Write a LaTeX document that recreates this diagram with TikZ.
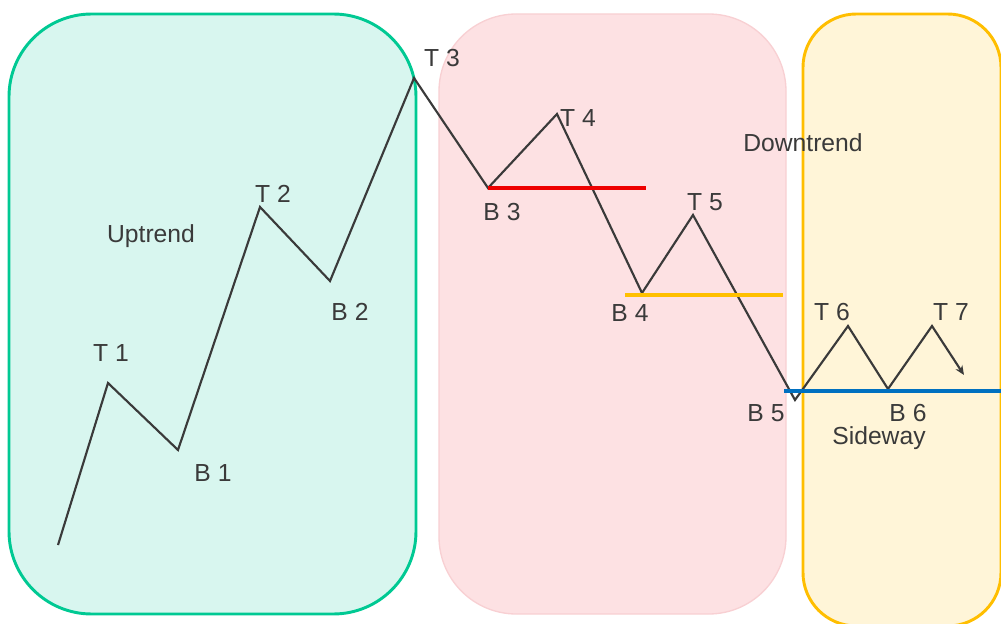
\documentclass[tikz,border=0pt]{standalone}
\usepackage{fontspec}
\usetikzlibrary{arrows.meta}
\setmainfont{Liberation Sans}
\definecolor{gfill}{HTML}{D8F6EF}
\definecolor{gline}{HTML}{00C993}
\definecolor{pfill}{HTML}{FDE1E3}
\definecolor{pline}{HTML}{F8D0D3}
\definecolor{yfill}{HTML}{FFF5D8}
\definecolor{yline}{HTML}{FFBE00}
\definecolor{txt}{HTML}{3A3A3A}
\definecolor{lred}{HTML}{EE0000}
\definecolor{lorange}{HTML}{FFC000}
\definecolor{lblue}{HTML}{0070C0}
\begin{document}
\begin{tikzpicture}[x=0.75pt,y=-0.75pt,
  lab/.style={text=txt,font=\fontsize{18.5}{20}\selectfont,inner sep=0pt},
  price/.style={draw=txt,line width=1.6pt,line join=miter},
  level/.style={line width=2.5pt}]
\useasboundingbox (0,0) rectangle (1001,624);
\begin{scope}
\clip (0,0) rectangle (1001,624);
\draw[fill=gfill,draw=gline,line width=2.2pt,rounded corners=62] (9,14) rectangle (416,614);
\draw[fill=pfill,draw=pline,line width=1pt,rounded corners=58] (439,14) rectangle (786,614);
\draw[fill=yfill,draw=yline,line width=2.2pt,rounded corners=40] (803,14) rectangle (1001,626);
\end{scope}
\coordinate (s) at (58,545);
\coordinate (t1) at (108,383);
\coordinate (b1) at (178,450);
\coordinate (t2) at (260,207);
\coordinate (b2) at (330,281);
\coordinate (t3) at (414,78);
\coordinate (b3) at (488,188);
\coordinate (t4) at (557,114);
\coordinate (b4) at (642,293);
\coordinate (t5) at (693,215);
\coordinate (b5) at (795,400);
\coordinate (t6) at (848,326);
\coordinate (b6) at (888,389);
\coordinate (t7) at (932,326);
\coordinate (e) at (964,375);
\draw[price,-{Stealth[length=7pt,width=6pt]}] (s) -- (t1) -- (b1) -- (t2) -- (b2) -- (t3) -- (b3) -- (t4) -- (b4) -- (t5) -- (b5) -- (t6) -- (b6) -- (t7) -- (e);
\coordinate (r1) at (646,188);
\coordinate (o0) at (625,295);
\coordinate (o1) at (783,295);
\coordinate (bl0) at (784,391);
\coordinate (bl1) at (1001,391);
\draw[level,draw=lred] (b3) -- (r1);
\draw[level,draw=lorange] (o0) -- (o1);
\draw[level,draw=lblue,line width=3pt] (bl0) -- (bl1);
\node[lab] (nt1) at (111,353) {T 1};
\node[lab] (nb1) at (213,473) {B 1};
\node[lab] (nt2) at (273,194) {T 2};
\node[lab] (nb2) at (350,312) {B 2};
\node[lab] (nt3) at (442,58) {T 3};
\node[lab] (nb3) at (502,212) {B 3};
\node[lab] (nt4) at (578,118) {T 4};
\node[lab] (nt5) at (705,202) {T 5};
\node[lab] (nb4) at (630,313) {B 4};
\node[lab] (nb5) at (766,413) {B 5};
\node[lab] (nt6) at (832,312) {T 6};
\node[lab] (nt7) at (951,312) {T 7};
\node[lab] (nb6) at (908,413) {B 6};
\node[lab] (up) at (151,236) {Uptrend};
\node[lab] (down) at (803,143) {Downtrend};
\node[lab] (side) at (879,438) {Sideway};
\end{tikzpicture}
\end{document}
